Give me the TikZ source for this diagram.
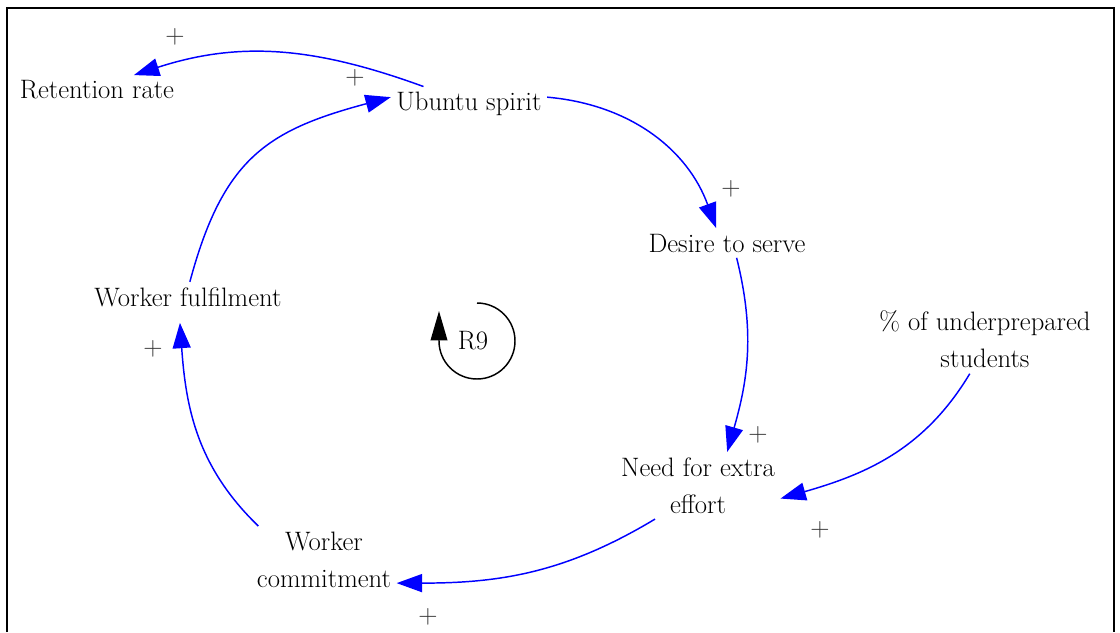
\documentclass[tikz,border=0pt]{standalone}
\usepackage{fontspec}
\usetikzlibrary{arrows.meta}
\tikzset{
  var/.style={inner sep=4pt, align=center, font=\fontsize{20}{27.75}\selectfont},
  pol/.style={inner sep=0pt, text=black!80, font=\fontsize{20}{24}\selectfont},
  link/.style={blue, line width=1.1pt, -{Triangle[length=19pt,width=13.5pt]}},
  loopline/.style={black, line width=1.1pt, -{Triangle[length=22pt,width=12.5pt]}},
}
\newcommand{\vnode}[4]{\node[var] (#1) at (#2,#3) {#4};}
\newcommand{\pnode}[3]{\node[pol] (#1) at (#2,#3) {+};}

\begin{document}
\begin{tikzpicture}[x=0.75pt,y=0.75pt]
\useasboundingbox (0,0) rectangle (1120,-632);
% ---- frame
\draw[line width=1.5pt] (7,-632) -- (7,-8) -- (1114,-8) -- (1114,-632);

% ---- variables
\vnode{ret}{97}{-90}{Retention rate}
\vnode{ubu}{469}{-104}{Ubuntu spirit}
\vnode{des}{727}{-243}{Desire to serve}
\vnode{und}{985}{-339.5}{\% of underprepared\\students}
\vnode{need}{698}{-485.5}{Need for extra\\effort}
\vnode{wc}{324}{-559.5}{Worker\\commitment}
\vnode{wf}{188}{-297}{Worker fulfilment}

% ---- causal links
\draw[link] (ubu.159) to[out=160,in=18] (ret.22);
\draw[link] (wf.83) to[out=75,in=195,looseness=1.2] (ubu.175);
\draw[link] (ubu.5) to[out=-5,in=110] (des.126);
\draw[link] (des.-57) to[out=-76,in=74] (need.49);
\draw[link] (und.-114) to[out=239,in=16] (need.-9);
\draw[link] (need.-142) to[out=211,in=0] (wc.-18);
\draw[link] (wc.153) to[out=136,in=274] ([yshift=-8pt]wf.-118);

% ---- polarities
\pnode{p1}{175}{-37}
\pnode{p2}{355}{-78}
\pnode{p3}{731}{-189}
\pnode{p4}{758}{-435}
\pnode{p5}{820}{-530}
\pnode{p6}{428}{-617}
\pnode{p7}{153}{-349}

% ---- loop marker
\node[var] (r9) at (473,-341) {R9};
\draw[loopline] (477,-303) arc[start angle=90,end angle=-180,radius=38] -- ++(0,30);
\end{tikzpicture}
\end{document}
